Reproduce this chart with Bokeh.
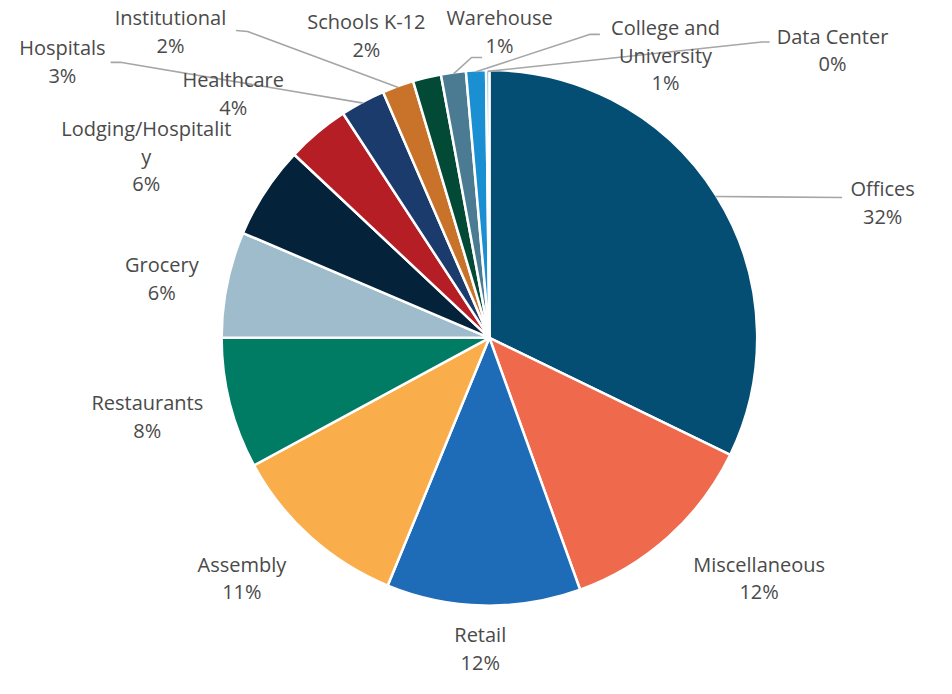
import math
from bokeh.plotting import figure
from bokeh.models import Range1d, ColumnDataSource
from bokeh.core.properties import value
from bokeh.embed import file_html
from bokeh.resources import INLINE

# ---- data (percent of total, clockwise from 12 o'clock) ----
categories = ["Offices", "Miscellaneous", "Retail", "Assembly", "Restaurants",
              "Grocery", "Lodging/Hospitality", "Healthcare", "Hospitals",
              "Institutional", "Schools K-12", "Warehouse",
              "College and University", "Data Center"]
values = [32.2, 12.3, 11.7, 10.9, 7.9, 6.4, 5.6, 3.8, 2.7, 1.9, 1.7, 1.5, 1.2, 0.2]
pct_labels = ["32%", "12%", "12%", "11%", "8%", "6%", "6%", "4%", "3%", "2%",
              "2%", "1%", "1%", "0%"]
label_lines = [["Offices"], ["Miscellaneous"], ["Retail"], ["Assembly"],
               ["Restaurants"], ["Grocery"], ["Lodging/Hospitalit", "y"],
               ["Healthcare"], ["Hospitals"], ["Institutional"], ["Schools K-12"],
               ["Warehouse"], ["College and", "University"], ["Data Center"]]
colors = ["#044e73", "#ef6a4c", "#1e6bb8", "#f9ae4b", "#007b64", "#9ebccb",
          "#04223a", "#b61e25", "#1b3b6c", "#c9732a", "#034a36", "#4a7b93",
          "#1a8fd2", "#6fb3de"]

# ---- layout ----
W, H = 936, 678
S = 0.965                 # scale from a 952x694 design grid to the figure
OX, OY = 4, 2

def X(ix):
    return OX + ix * S

def Y(iy):
    return H - (OY + iy * S)

cx, cy, R = X(502.5), Y(347.5), 277.5 * S
# label anchor: centre x, first line centre y (design grid)
label_pos = [(910, 193), (782, 582), (493, 655), (246, 582), (148, 415),
             (163, 272), (147, 131), (237, 80), (60, 47), (172, 16),
             (375, 20), (513, 16), (685, 26), (858, 35)]
line_h = 28.5
# leader lines: start and elbow point near the label
leaders = {0: [(868, 202)], 8: [(110, 62), (120, 62)], 9: [(240, 29), (252, 30)],
           11: [(495, 57), (484, 57)], 12: [(617, 33), (607, 33)],
           13: [(793, 41), (785, 41)]}

p = figure(width=W, height=H, output_backend="svg", toolbar_location=None,
           x_range=Range1d(0, W), y_range=Range1d(0, H),
           min_border=0, outline_line_color=None)
p.axis.visible = False
p.grid.visible = False
p.background_fill_color = "white"
p.border_fill_color = "white"

total = sum(values)
starts, ends, mids = [], [], []
cum = 0.0
for v in values:
    a0 = cum / total * 2 * math.pi
    cum += v
    a1 = cum / total * 2 * math.pi
    starts.append(math.pi / 2 - a1)
    ends.append(math.pi / 2 - a0)
    mids.append((a0 + a1) / 2)

src = ColumnDataSource(dict(start=starts, end=ends, color=colors, cat=categories))
p.wedge(x=cx, y=cy, radius=R, start_angle="start", end_angle="end",
        fill_color="color", line_color="white", line_width=2.5, source=src)

# leader lines
for i, pts in leaders.items():
    m = mids[i]
    ex = cx + R * 0.995 * math.sin(m)
    ey = cy + R * 0.995 * math.cos(m)
    xs = [X(pt[0]) for pt in pts] + [ex]
    ys = [Y(pt[1]) for pt in pts] + [ey]
    p.line(xs, ys, line_color="#a6a6a6", line_width=1.6)

# labels
tx, ty, tt = [], [], []
for i, lines in enumerate(label_lines):
    x0, y0 = label_pos[i]
    all_lines = lines + [pct_labels[i]]
    for k, s in enumerate(all_lines):
        tx.append(X(x0))
        ty.append(Y(y0 + k * line_h))
        tt.append(s)
p.text(x=tx, y=ty, text=tt, text_align="center", text_baseline="middle",
       text_font=value("Open Sans"), text_font_size="20px", text_color="#4a4a4a")

open("out.html", "w").write(file_html(p, INLINE))
